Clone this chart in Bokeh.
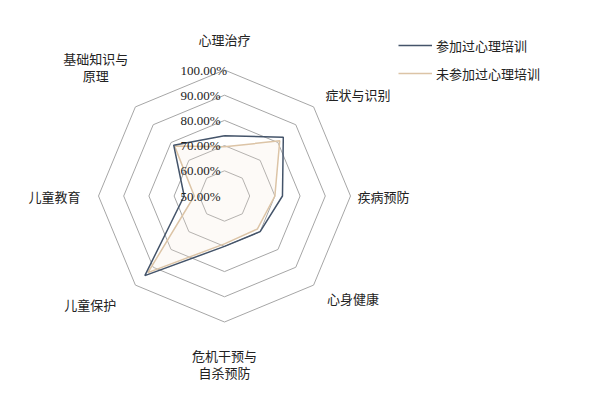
import numpy as np
from bokeh.plotting import figure
from bokeh.models import ColumnDataSource, Range1d, Legend, LegendItem
from bokeh.embed import file_html
from bokeh.resources import INLINE
from bokeh.core.properties import value

# ---- data ----
categories = ["心理治疗", "症状与识别", "疾病预防", "心身健康",
              "危机干预与\n自杀预防", "儿童保护", "儿童教育", "基础知识与\n原理"]
trained = [0.739, 0.83, 0.73, 0.70, 0.70, 0.947, 0.66, 0.785]
untrained = [0.695, 0.81, 0.70, 0.685, 0.69, 0.93, 0.62, 0.78]
grid_levels = [0.5, 0.6, 0.7, 0.8, 0.9, 1.0]
tick_labels = ["50.00%", "60.00%", "70.00%", "80.00%", "90.00%", "100.00%"]
series_names = ["参加过心理培训", "未参加过心理培训"]

# ---- radial scale ----
R_MIN, R_MAX, RADIUS = 0.5, 1.0, 126.0
n = len(categories)
angles = np.pi / 2 - 2 * np.pi * np.arange(n) / n


def rad(v):
    return (np.asarray(v, dtype=float) - R_MIN) / (R_MAX - R_MIN) * RADIUS


def polar(vals, close=True):
    r = rad(vals)
    xs = r * np.cos(angles)
    ys = r * np.sin(angles)
    if close:
        xs = np.append(xs, xs[0])
        ys = np.append(ys, ys[0])
    return xs, ys


p = figure(width=589, height=386, output_backend="svg", toolbar_location=None,
           x_range=Range1d(-224, 365), y_range=Range1d(-190.5, 195.5),
           min_border=0, outline_line_color=None, background_fill_color="white")
p.axis.visible = False
p.xgrid.visible = False
p.ygrid.visible = False

# grid octagons
gx, gy = [], []
for lv in grid_levels[1:]:
    xs, ys = polar([lv] * n)
    gx.append(list(xs))
    gy.append(list(ys))
p.multi_line(xs=gx, ys=gy, line_color="#a6a6a6", line_width=1)

# series
COL_A = "#44546a"
COL_B = "#dcc4a6"
xb, yb = polar(untrained)
p.patch(x=xb, y=yb, fill_color="#f3e6d6", fill_alpha=0.2, line_color=None)
rb = p.line(x=xb, y=yb, line_color=COL_B, line_width=1.5)
xa, ya = polar(trained)
ra = p.line(x=xa, y=ya, line_color=COL_A, line_width=1.5)

# tick labels
tick_src = ColumnDataSource(dict(x=[-44] * len(grid_levels), y=list(rad(grid_levels)),
                                 t=tick_labels))
p.text(x="x", y="y", text="t", source=tick_src, text_font=value("Liberation Serif"),
       text_font_size="13px", text_align="left", text_baseline="middle",
       text_color="#222222")

# category labels
label_r = [157, 143, 133, 145, 168, 153, 144, 182]
label_align = ["center", "left", "left", "left", "center", "right", "right", "center"]
lx = [r * np.cos(a) for r, a in zip(label_r, angles)]
ly = [r * np.sin(a) for r, a in zip(label_r, angles)]
lab_src = ColumnDataSource(dict(x=lx, y=ly, t=categories, a=label_align))
p.text(x="x", y="y", text="t", source=lab_src, text_font=value("Noto Sans CJK SC"),
       text_font_size="13px", text_align="a", text_baseline="middle",
       text_color="#222222", text_line_height=0.9)

legend = Legend(items=[LegendItem(label=series_names[0], renderers=[ra]),
                       LegendItem(label=series_names[1], renderers=[rb])],
                location=(398, 303), border_line_color=None, background_fill_alpha=0,
                padding=0, margin=0, spacing=8, glyph_width=34, glyph_height=20,
                label_height=20, label_standoff=4, label_text_font_size="13px",
                label_text_font="Noto Sans CJK SC", label_text_color="#222222")
p.add_layout(legend)

open("out.html", "w").write(file_html(p, INLINE))
